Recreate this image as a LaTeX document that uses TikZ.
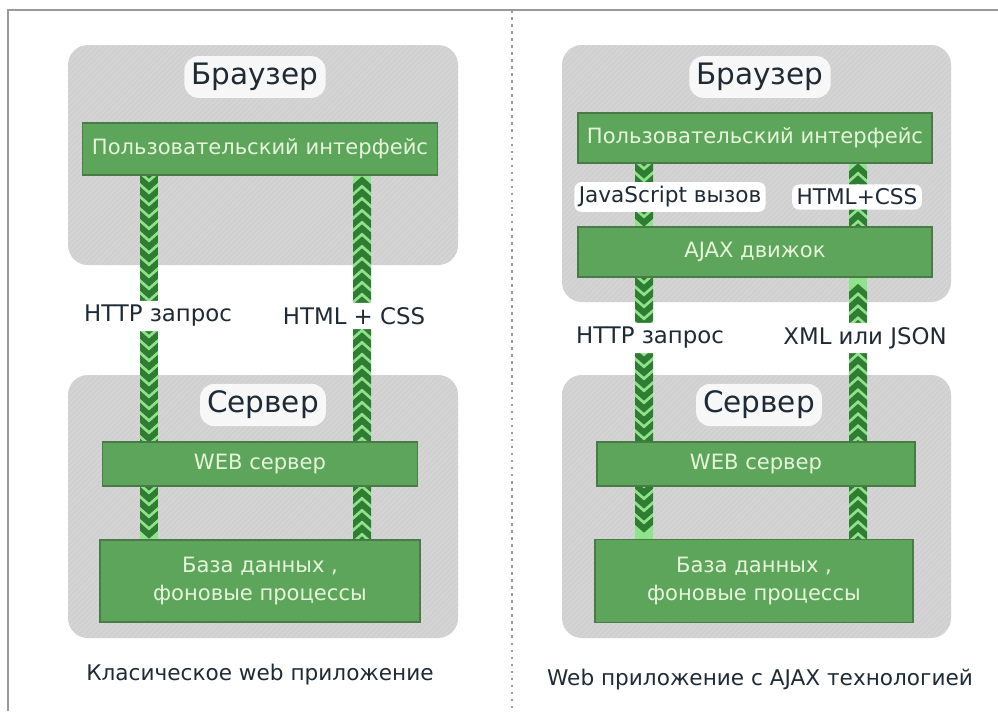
\documentclass[tikz,border=0pt]{standalone}
\usepackage{fontspec}
\setmainfont{DejaVu Sans}
\usetikzlibrary{patterns,decorations.markings}
\pgfdeclarelayer{panels}
\pgfdeclarelayer{bands}
\pgfsetlayers{panels,bands,main}
\definecolor{boxgreen}{HTML}{5DA55A}
\definecolor{boxedge}{HTML}{4A7A47}
\definecolor{boxtext}{HTML}{E6F4DC}
\definecolor{bandlight}{HTML}{8FE38A}
\definecolor{banddark}{HTML}{2F7D32}
\definecolor{labeltext}{HTML}{1E2A36}
\definecolor{panelgray}{HTML}{D0D0D0}
\definecolor{framegray}{HTML}{9A9A9A}
\tikzset{panel/.style={fill=panelgray, rounded corners=0.4cm}}
\tikzset{hatch/.style={pattern=north east lines, pattern color=white!70!gray, rounded corners=0.4cm}}
\tikzset{greenbox/.style={draw=boxedge, line width=0.8pt, fill=boxgreen, text=boxtext,
  font=\fontsize{12}{16}\selectfont, align=center, inner sep=0pt}}
\tikzset{title/.style={fill=white, fill opacity=0.85, text opacity=1, rounded corners=8pt,
  text=labeltext, font=\fontsize{16.8}{19}\selectfont, inner sep=4pt}}
\tikzset{lbl/.style={fill=white, rounded corners=4pt, text=labeltext,
  font=\fontsize{13}{15}\selectfont, inner sep=2.5pt}}
\tikzset{caption/.style={text=labeltext, font=\fontsize{12.3}{14}\selectfont}}
\tikzset{band/.style={draw=bandlight, line width=0.36cm,
  postaction={decorate, decoration={markings,
    mark=between positions 0 and 1 step 0.24cm with
    {\fill[banddark] (-0.1cm,-0.18cm) -- (0.06cm,0) -- (-0.1cm,0.18cm) -- (-0.26cm,0.18cm)
       -- (-0.1cm,0) -- (-0.26cm,-0.18cm) -- cycle;}}}}}

\begin{document}
\begin{tikzpicture}[x=0.02cm, y=-0.02cm]
\useasboundingbox (0,0) rectangle (998,711);

% frame and divider
\draw[framegray, line width=1.2pt] (8,711) -- (8,10) -- (998,10);
\draw[framegray, line width=1pt, dash pattern=on 1.5pt off 2.5pt] (512,10) -- (512,711);

% panels
\begin{pgfonlayer}{panels}
\fill[panel] (68,45) rectangle (458,265);
\fill[hatch] (68,45) rectangle (458,265);
\fill[panel] (68,375) rectangle (458,638);
\fill[hatch] (68,375) rectangle (458,638);
\fill[panel] (562,45) rectangle (951,302);
\fill[hatch] (562,45) rectangle (951,302);
\fill[panel] (562,375) rectangle (951,638);
\fill[hatch] (562,375) rectangle (951,638);
\end{pgfonlayer}

% classic application
\node[greenbox, minimum width=7.1cm, minimum height=1.04cm] (ui1) at (260,149) {Пользовательский интерфейс};
\node[greenbox, minimum width=6.3cm, minimum height=0.88cm] (web1) at (260,464) {WEB сервер};
\node[greenbox, minimum width=6.4cm, minimum height=1.64cm] (db1) at (260,581) {База данных ,\\фоновые процессы};

\coordinate (req1) at (149,0);
\coordinate (resp1) at (362,0);
\begin{pgfonlayer}{bands}
\draw[band] (ui1.south -| req1) -- (db1.north -| req1);
\draw[band] (db1.north -| resp1) -- (ui1.south -| resp1);
\end{pgfonlayer}

\node[title] (br1) at (255,77) {Браузер};
\node[title] (srv1) at (263,405) {Сервер};
\node[lbl] (http1) at (158,316) {HTTP запрос};
\node[lbl] (html1) at (354,316) {HTML + CSS};
\node[caption] (cap1) at (260,675) {Класическое web приложение};

% ajax application
\node[greenbox, minimum width=7.08cm, minimum height=1.0cm] (ui2) at (755,138) {Пользовательский интерфейс};
\node[greenbox, minimum width=7.08cm, minimum height=1.0cm] (ajax) at (755,252) {AJAX движок};
\node[greenbox, minimum width=6.36cm, minimum height=0.88cm] (web2) at (756,464) {WEB сервер};
\node[greenbox, minimum width=6.36cm, minimum height=1.66cm] (db2) at (754,581) {База данных ,\\фоновые процессы};

\coordinate (req2) at (644,0);
\coordinate (resp2) at (858,0);
\begin{pgfonlayer}{bands}
\draw[band] (ui2.south -| req2) -- (ajax.north -| req2);
\draw[band] (ajax.north -| resp2) -- (ui2.south -| resp2);
\draw[band] (ajax.south -| req2) -- (db2.north -| req2);
\draw[band] (db2.north -| resp2) -- (ajax.south -| resp2);
\end{pgfonlayer}

\node[title] (br2) at (760,77) {Браузер};
\node[title] (srv2) at (759,405) {Сервер};
\node[lbl, font=\fontsize{12.3}{14}\selectfont] (js) at (670,197) {JavaScript вызов};
\node[lbl, font=\fontsize{12.3}{14}\selectfont] (html2) at (857,197) {HTML+CSS};
\node[lbl] (http2) at (650,338) {HTTP запрос};
\node[lbl] (xml) at (865,338) {XML или JSON};
\node[caption] (cap2) at (760,680) {Web приложение с AJAX технологией};
\end{tikzpicture}
\end{document}
